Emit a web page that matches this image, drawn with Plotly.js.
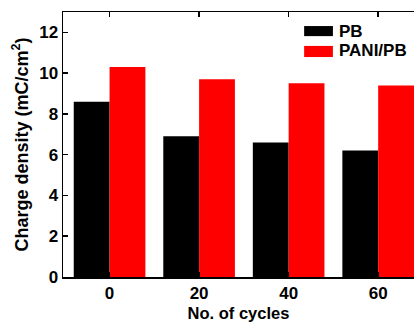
<!DOCTYPE html>
<html>
<head>
<meta charset="utf-8">
<script src="https://cdn.plot.ly/plotly-3.0.1.min.js"></script>
<style>html,body{margin:0;padding:0;background:#fff;}#chart{width:414px;height:322px;}</style>
</head>
<body>
<div id="chart"></div>
<script>
const categories = ["0", "20", "40", "60"];
const seriesNames = ["PB", "PANI/PB"];
const pbValues = [8.6, 6.9, 6.6, 6.2];
const paniValues = [10.3, 9.7, 9.5, 9.4];
const yTicks = [0, 2, 4, 6, 8, 10, 12];
const colors = ["#000000", "#ff0000"];

const FONT = "Liberation Sans, Arial, sans-serif";

const traces = [
  {type: "bar", name: seriesNames[0], x: categories, y: pbValues, marker: {color: colors[0], line: {width: 0}}},
  {type: "bar", name: seriesNames[1], x: categories, y: paniValues, marker: {color: colors[1], line: {width: 0}}}
];

// custom legend (wide swatches like the reference)
const legendX0 = 0.687, legendX1 = 0.769;
const legendRows = [{y0: 0.909, y1: 0.947, yc: 0.928}, {y0: 0.830, y1: 0.872, yc: 0.853}];
const shapes = [], annotations = [];
seriesNames.forEach((n, i) => {
  shapes.push({type: "rect", xref: "paper", yref: "paper", x0: legendX0, x1: legendX1,
    y0: legendRows[i].y0, y1: legendRows[i].y1, fillcolor: colors[i], line: {width: 0}});
  annotations.push({xref: "paper", yref: "paper", x: legendX1 + 0.012, y: legendRows[i].yc,
    xanchor: "left", yanchor: "middle", showarrow: false, text: "<b>" + n + "</b>",
    font: {family: FONT, size: 17, color: "#000"}});
});

const layout = {
  width: 414, height: 322,
  margin: {l: 63, r: 0, t: 12, b: 45, pad: 0},
  paper_bgcolor: "#fff", plot_bgcolor: "#fff",
  showlegend: false,
  barmode: "group", bargap: 0.2, bargroupgap: 0,
  font: {family: FONT, color: "#000"},
  xaxis: {
    type: "category", range: [-0.52, 3.40],
    showline: true, linecolor: "#000", linewidth: 1.5, mirror: "ticks",
    ticks: "inside", ticklen: 5, tickwidth: 1.5, tickcolor: "#000",
    showgrid: false, zeroline: false,
    tickfont: {family: FONT, size: 17, color: "#000", weight: "bold"},
    title: {text: "<b>No. of cycles</b>", font: {family: FONT, size: 16.5, color: "#000"}, standoff: 5}
  },
  yaxis: {
    range: [0, 13], tickvals: yTicks, ticktext: yTicks.map(String),
    showline: true, linecolor: "#000", linewidth: 1.5, mirror: false,
    ticks: "inside", ticklen: 5, tickwidth: 1.5, tickcolor: "#000",
    showgrid: false, zeroline: false,
    tickfont: {family: FONT, size: 17, color: "#000", weight: "bold"},
    title: {text: "<b>Charge density (mC/cm<sup>2</sup>)</b>", font: {family: FONT, size: 18, color: "#000"}, standoff: 6}
  },
  shapes: shapes,
  annotations: annotations
};

Plotly.newPlot("chart", traces, layout, {displayModeBar: false, staticPlot: true});
</script>
</body>
</html>
